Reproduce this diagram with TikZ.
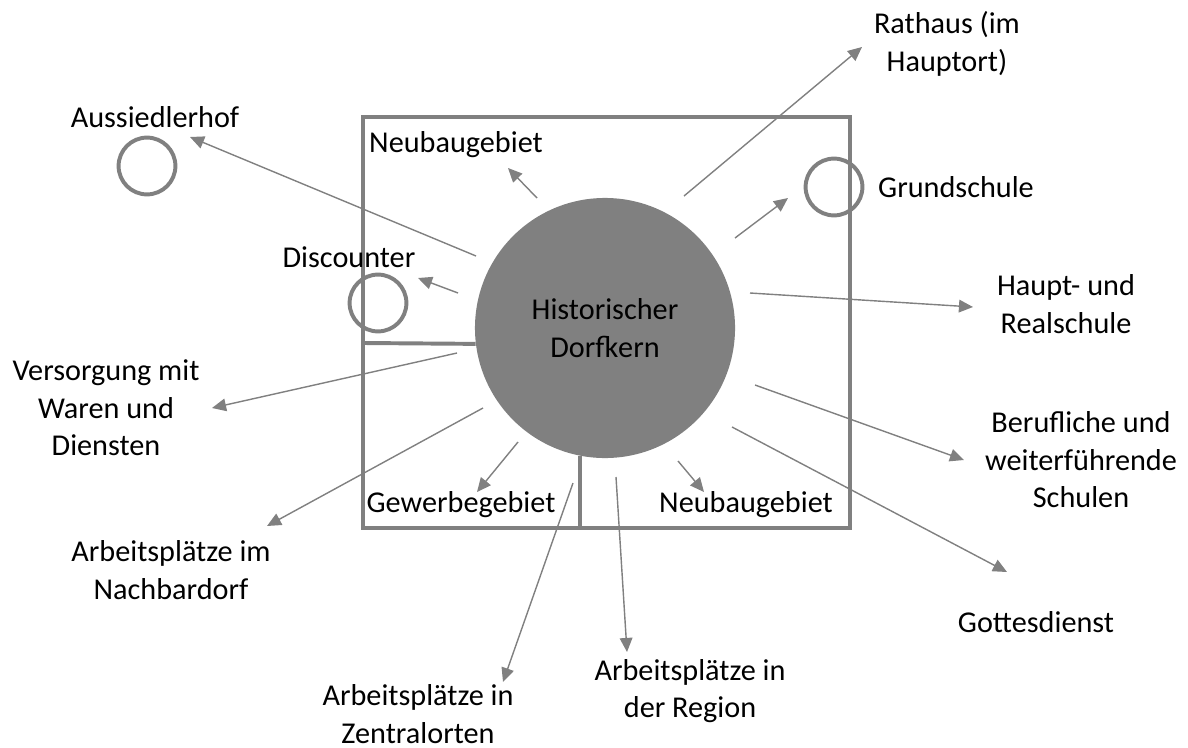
\documentclass[tikz,border=0pt]{standalone}
\usepackage{fontspec}
\setmainfont{Carlito}
\usetikzlibrary{arrows.meta}
\definecolor{linegray}{RGB}{128,128,128}

\tikzset{
  txt/.style={font=\fontsize{21.5}{26.7}\selectfont, align=center, inner sep=0pt},
  frame/.style={draw=linegray, line width=2.8pt},
  site/.style={circle, draw=linegray, line width=2.8pt, minimum size=1.42cm, inner sep=0pt},
  link/.style={draw=linegray, line width=1pt, -{Triangle[length=10pt,width=9pt]}},
}

\begin{document}
\begin{tikzpicture}[x=0.025cm,y=-0.025cm]
    \useasboundingbox (0,0) rectangle (1188,748);

    % village core and its quarters
    \node[circle, fill=linegray, minimum size=6.5cm, txt] (kern) at (605,328) {Historischer\\Dorfkern};
    \draw[frame] (363,117) rectangle (850,528);
    \draw[frame] (363,343) -- (kern.187);
    \draw[frame] (kern.259) -- ++(0,72);

    % outlying sites
    \node[site] (aushof) at (147,166) {};
    \node[site] (disc) at (378,303) {};
    \node[site] (gschule) at (834,187) {};

    % labels
    \node[txt] (rathaus) at (947,44) {Rathaus (im\\Hauptort)};
    \node[txt] (aussiedler) at (155,117) {Aussiedlerhof};
    \node[txt] (neubauN) at (456,145) {Neubaugebiet};
    \node[txt] (grundschule) at (956,187) {Grundschule};
    \node[txt] (discounter) at (349,257) {Discounter};
    \node[txt] (haupt) at (1066,304) {Haupt- und\\Realschule};
    \node[txt] (versorgung) at (106,408) {Versorgung mit\\Waren und\\Diensten};
    \node[txt] (berufl) at (1081,460) {Berufliche und\\weiterführende\\Schulen};
    \node[txt] (gewerbe) at (461,505) {Gewerbegebiet};
    \node[txt] (neubauS) at (746,505) {Neubaugebiet};
    \node[txt] (nachbar) at (171,570) {Arbeitsplätze im\\Nachbardorf};
    \node[txt] (gottes) at (1036,622) {Gottesdienst};
    \node[txt] (region) at (690,691) {Arbeitsplätze in\\der Region};
    \node[txt] (zentral) at (418,714) {Arbeitsplätze in\\Zentralorten};

    % arrow ends
    \coordinate (s1) at (476,256);  \coordinate (e1) at (190,137);
    \coordinate (s2) at (537,198);  \coordinate (e2) at (508,168);
    \coordinate (s3) at (684,196);  \coordinate (e3) at (862,47);
    \coordinate (s4) at (735,238);  \coordinate (e4) at (788,198);
    \coordinate (s5) at (458,293);  \coordinate (e5) at (418,278);
    \coordinate (s6) at (750,293);  \coordinate (e6) at (973,307);
    \coordinate (s7) at (457,353);  \coordinate (e7) at (212,408);
    \coordinate (s8) at (483,408);  \coordinate (e8) at (267,526);
    \coordinate (s9) at (518,442);  \coordinate (e9) at (477,492);
    \coordinate (s10) at (573,483); \coordinate (e10) at (503,682);
    \coordinate (s11) at (616,477); \coordinate (e11) at (627,652);
    \coordinate (s12) at (678,461); \coordinate (e12) at (704,492);
    \coordinate (s13) at (755,385); \coordinate (e13) at (964,460);
    \coordinate (s14) at (732,427); \coordinate (e14) at (1007,572);

    % connections
    \draw[link] (s1) -- (e1);
    \draw[link] (s2) -- (e2);
    \draw[link] (s3) -- (e3);
    \draw[link] (s4) -- (e4);
    \draw[link] (s5) -- (e5);
    \draw[link] (s6) -- (e6);
    \draw[link] (s7) -- (e7);
    \draw[link] (s8) -- (e8);
    \draw[link] (s9) -- (e9);
    \draw[link] (s10) -- (e10);
    \draw[link] (s11) -- (e11);
    \draw[link] (s12) -- (e12);
    \draw[link] (s13) -- (e13);
    \draw[link] (s14) -- (e14);
\end{tikzpicture}
\end{document}
